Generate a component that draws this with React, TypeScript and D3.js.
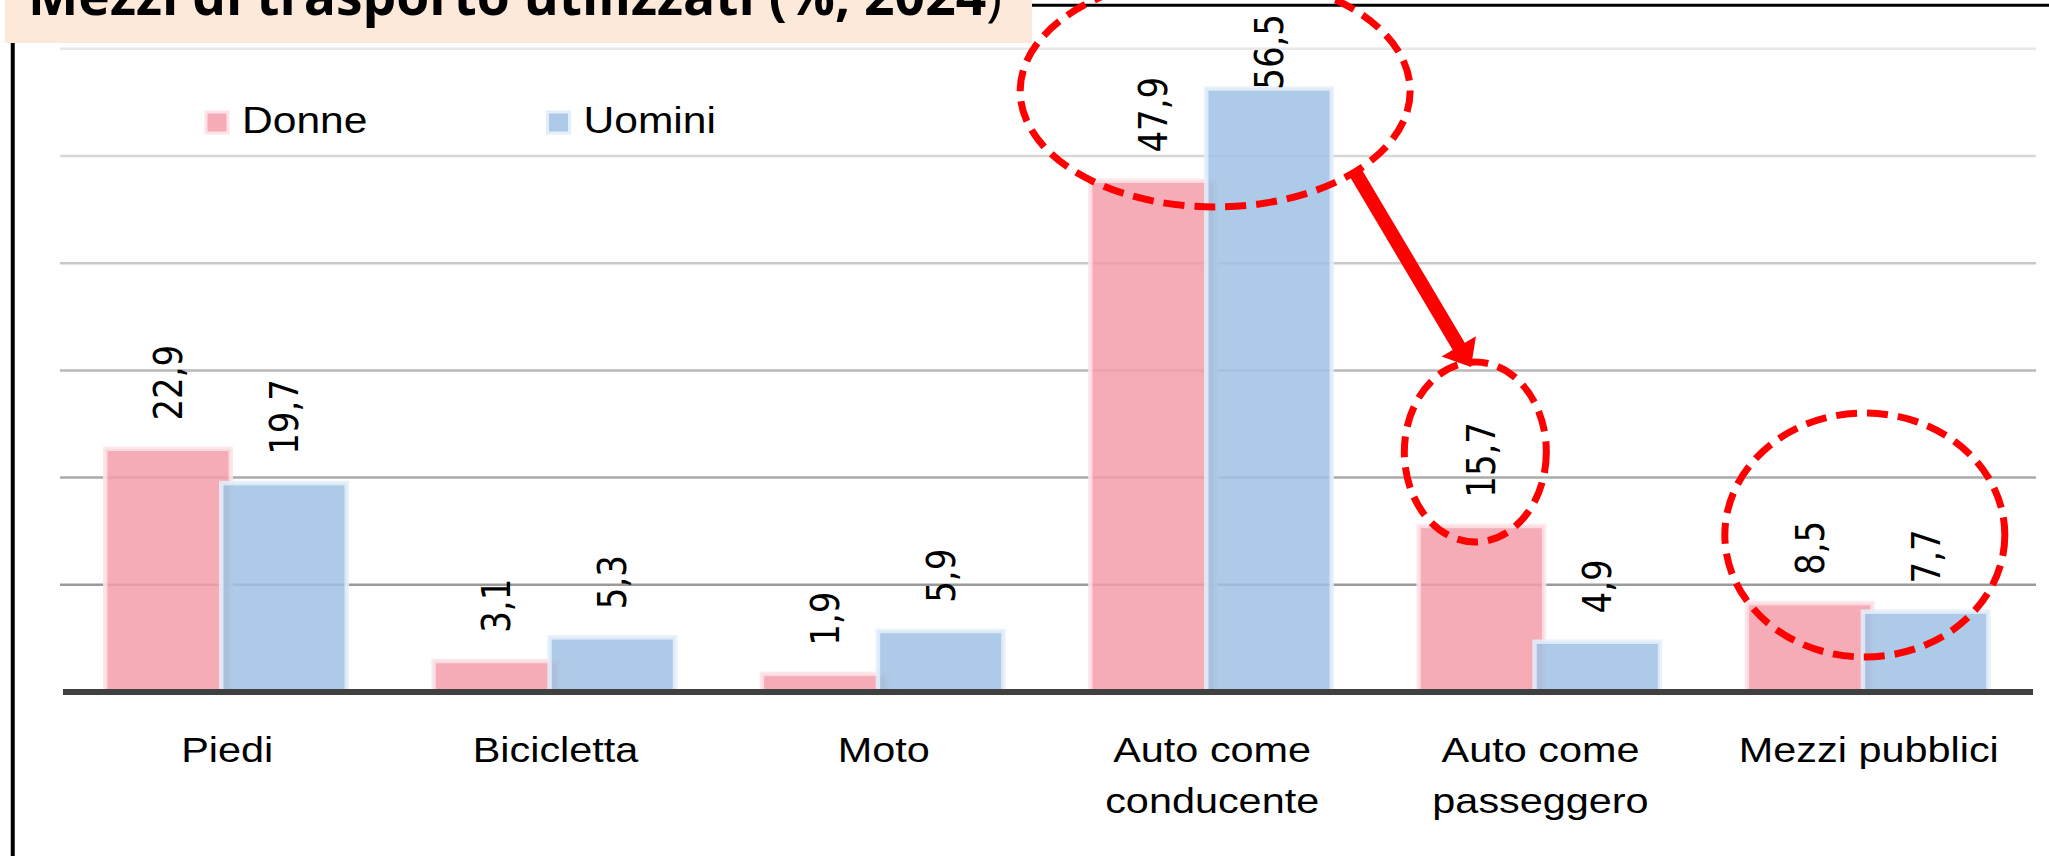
import * as d3 from "d3";
import React from "react";

const categories = ["Piedi", "Bicicletta", "Moto", "Auto come conducente", "Auto come passeggero", "Mezzi pubblici"];
// how each category label wraps under the axis
const categoryLines = [["Piedi"], ["Bicicletta"], ["Moto"], ["Auto come", "conducente"], ["Auto come", "passeggero"], ["Mezzi pubblici"]];
const seriesNames = ["Donne", "Uomini"];
const donne = [22.9, 3.1, 1.9, 47.9, 15.7, 8.5];
const uomini = [19.7, 5.3, 5.9, 56.5, 4.9, 7.7];
const yTicks = [10, 20, 30, 40, 50, 60];
const titleText = "Mezzi di trasporto utilizzati (%, 2024";

const WIDTH = 2049;
const HEIGHT = 856;

class TrasportiChart extends React.PureComponent<{}, {}> {
    svgRef: any;

    constructor(props: any) {
        super(props);
        this.svgRef = React.createRef();
    }

    componentDidMount() {
        this.draw();
    }

    draw() {
        const svg = d3.select(this.svgRef.current);
        svg.selectAll("*").remove();

        const colors: Record<string, { fill: string; edge: string }> = {
            Donne: { fill: "#f39daa", edge: "#fde3e8" },
            Uomini: { fill: "#9fc2e4", edge: "#e4eef9" },
        };
        const values: Record<string, number[]> = { Donne: donne, Uomini: uomini };

        const x0 = d3.scaleBand<string>().domain(categories).range([63, 2033]);
        const x1 = d3.scaleBand<string>().domain(seriesNames).range([40, 272]);
        const barW = 130;
        const edgeW = 4.5;
        const y = d3.scaleLinear().domain([0, 60]).range([692, 48.8]);
        const gridColor = d3.scaleLinear<string>().domain([10, 60]).range(["#9a9a9a", "#e8e8e8"]);
        const fmt = d3.formatLocale({ decimal: ",", thousands: ".", grouping: [3], currency: ["", "€"] }).format(".1f");

        svg.append("rect").attr("width", WIDTH).attr("height", HEIGHT).attr("fill", "#ffffff");

        // frame lines
        svg.append("line").attr("x1", 12.75).attr("x2", 12.75).attr("y1", 40).attr("y2", HEIGHT)
            .attr("stroke", "#000").attr("stroke-width", 4);
        svg.append("line").attr("x1", 1030).attr("x2", WIDTH).attr("y1", 5.3).attr("y2", 5.3)
            .attr("stroke", "#000").attr("stroke-width", 3);

        // title box (cut at the top, as in the source)
        svg.append("rect").attr("x", 5).attr("y", 0).attr("width", 1027).attr("height", 43).attr("fill", "#fde9d9");
        const title = svg.append("text")
            .attr("x", 28).attr("y", 15)
            .attr("textLength", 974)
            .attr("lengthAdjust", "spacingAndGlyphs")
            .style("font-family", "'Open Sans', 'Noto Sans', sans-serif")
            .style("font-size", "53px")
            .style("fill", "#000");
        title.append("tspan").style("font-weight", 700).text(titleText);
        title.append("tspan").style("font-weight", 400).text(")");

        // gridlines
        svg.append("g").selectAll("line").data(yTicks).enter().append("line")
            .attr("x1", 60).attr("x2", 2036)
            .attr("y1", (d: number) => y(d)).attr("y2", (d: number) => y(d))
            .attr("stroke", (d: number) => gridColor(d))
            .attr("stroke-width", 2.5);

        // bars
        seriesNames.forEach((s) => {
            svg.append("g").selectAll("rect").data(categories).enter().append("rect")
                .attr("x", (c: string) => (x0(c) as number) + (x1(s) as number) + edgeW / 2)
                .attr("y", (c: string, i: number) => y(values[s][i]) + edgeW / 2)
                .attr("width", barW - edgeW)
                .attr("height", (c: string, i: number) => y(0) - y(values[s][i]) - edgeW / 2)
                .attr("fill", colors[s].fill)
                .attr("fill-opacity", 0.85)
                .attr("stroke", colors[s].edge)
                .attr("stroke-opacity", 0.85)
                .attr("stroke-width", edgeW);
        });

        // x axis line
        svg.append("line").attr("x1", 63).attr("x2", 2033).attr("y1", 692).attr("y2", 692)
            .attr("stroke", "#404040").attr("stroke-width", 6);

        // value labels, rotated; pushed down when they would leave the top
        seriesNames.forEach((s) => {
            svg.append("g").selectAll("text").data(categories).enter().append("text")
                .attr("dy", "0.36em")
                .style("font-family", "'DejaVu Sans', sans-serif")
                .style("font-size", "34px")
                .style("fill", "#000")
                .text((c: string, i: number) => fmt(values[s][i]))
                .attr("transform", function (this: any, c: string, i: number) {
                    const cx = (x0(c) as number) + (x1(s) as number) + barW / 2;
                    const len = this.getComputedTextLength ? this.getComputedTextLength() : 76;
                    const ty = Math.max(y(values[s][i]) - 26, 14 + len);
                    return `translate(${cx},${ty}) scale(1.15,1) rotate(-90)`;
                });
        });

        // category labels
        const catG = svg.append("g").selectAll("text").data(categories).enter().append("text")
            .attr("transform", (c: string) => `translate(${(x0(c) as number) + x0.bandwidth() / 2},762) scale(1.15,1)`)
            .attr("text-anchor", "middle")
            .style("font-family", "'Liberation Sans', Arial, sans-serif")
            .style("font-size", "36px")
            .style("fill", "#000");
        catG.each(function (this: any, c: string, i: number) {
            const t = d3.select(this);
            categoryLines[i].forEach((line, k) => {
                t.append("tspan").attr("x", 0).attr("y", k * 51.5).text(line);
            });
        });

        // legend
        const legendX = [206, 547.5];
        seriesNames.forEach((s, i) => {
            svg.append("rect")
                .attr("x", legendX[i]).attr("y", 112).attr("width", 22).attr("height", 21)
                .attr("fill", colors[s].fill).attr("fill-opacity", 0.85)
                .attr("stroke", colors[s].edge).attr("stroke-width", 3);
            svg.append("text")
                .attr("transform", `translate(${legendX[i] + 36},133) scale(1.15,1)`)
                .style("font-family", "'Liberation Sans', Arial, sans-serif")
                .style("font-size", "37px")
                .style("fill", "#000")
                .text(s);
        });

        // red dashed highlights
        const dash = { stroke: "#ff0000", width: 7, array: "21 10" };
        const ellipses = [
            { cx: (x0("Auto come conducente") as number) + x0.bandwidth() / 2 + 3, cy: 91, rx: 195, ry: 116 },
            { cx: (x0("Auto come passeggero") as number) + (x1("Donne") as number) + barW / 2 - 6, cy: 452, rx: 71, ry: 90 },
            { cx: (x0("Mezzi pubblici") as number) + x0.bandwidth() / 2 - 4, cy: 535, rx: 140, ry: 122 },
        ];
        svg.append("g").selectAll("ellipse").data(ellipses).enter().append("ellipse")
            .attr("cx", (d: any) => d.cx).attr("cy", (d: any) => d.cy)
            .attr("rx", (d: any) => d.rx).attr("ry", (d: any) => d.ry)
            .attr("fill", "none")
            .attr("stroke", dash.stroke)
            .attr("stroke-width", dash.width)
            .attr("stroke-dasharray", dash.array);

        // arrow from the first highlight to the second
        const start: [number, number] = [1354, 170];
        const tip: [number, number] = [1471, 367];
        const len = Math.hypot(tip[0] - start[0], tip[1] - start[1]);
        const ux = (tip[0] - start[0]) / len;
        const uy = (tip[1] - start[1]) / len;
        const headLen = 24;
        const headHalf = 20;
        const base: [number, number] = [tip[0] - ux * headLen, tip[1] - uy * headLen];
        svg.append("line")
            .attr("x1", start[0]).attr("y1", start[1])
            .attr("x2", base[0] + ux * 2).attr("y2", base[1] + uy * 2)
            .attr("stroke", "#ff0000").attr("stroke-width", 14);
        svg.append("path")
            .attr("d", d3.line()([
                [base[0] - uy * headHalf, base[1] + ux * headHalf],
                tip,
                [base[0] + uy * headHalf, base[1] - ux * headHalf],
            ]) + "Z")
            .attr("fill", "#ff0000");
    }

    render() {
        return (
            <svg
                ref={this.svgRef}
                width={WIDTH}
                height={HEIGHT}
                style={{ position: "absolute", left: 0, top: 0, display: "block" }}
            />
        );
    }
}

export default function App() {
    return <TrasportiChart />;
}
